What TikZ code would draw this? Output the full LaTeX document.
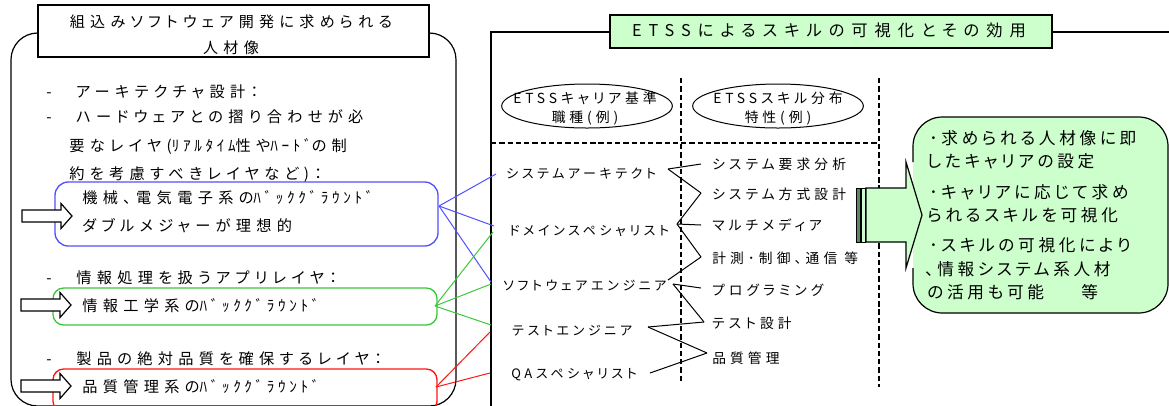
\documentclass[tikz,border=0pt]{standalone}
\usepackage{fontspec}
\newfontfamily\jp[RawFeature=+palt]{Noto Sans CJK JP}
\usetikzlibrary{shapes.geometric}
\definecolor{lgreen}{RGB}{204,255,204}
\definecolor{bline}{RGB}{80,80,255}
\definecolor{gline}{RGB}{60,200,60}
\definecolor{rline}{RGB}{255,20,20}
\definecolor{dgreen}{RGB}{100,130,100}
\newcommand\hwk[1]{{\addfontfeature{LetterSpace=24}#1}}
\newcommand\blkarrow[3]{% x0, x1, y
  \filldraw[fill=white,line width=0.9pt] (#1,#3-6) -- (#2-11,#3-6) -- (#2-11,#3-12.5) -- (#2,#3) -- (#2-11,#3+12.5) -- (#2-11,#3+6) -- (#1,#3+6) -- cycle;}
\begin{document}
\begin{tikzpicture}[x=0.75pt,y=-0.75pt,
  base/.style={inner sep=0pt, text height=0.88em, text depth=0.12em},
  ltxt/.style={base, anchor=west, font=\jp\fontsize{11.4}{13}\selectfont\addfontfeature{LetterSpace=35}},
  ttl/.style={base, font=\jp\fontsize{11.3}{13}\selectfont\addfontfeature{LetterSpace=35}},
  rttl/.style={base, font=\jp\fontsize{12.2}{14}\selectfont\addfontfeature{LetterSpace=43}},
  etxt/.style={base, font=\jp\fontsize{10.4}{12}\selectfont\addfontfeature{LetterSpace=28}},
  role/.style={base, anchor=west, font=\jp\fontsize{9.75}{11}\selectfont\addfontfeature{LetterSpace=28}},
  skill/.style={base, anchor=west, font=\jp\fontsize{10.3}{12}\selectfont\addfontfeature{LetterSpace=30}},
  ctxt/.style={base, anchor=west, font=\jp\fontsize{12.5}{14}\selectfont\addfontfeature{LetterSpace=22}},
  bl/.style={bline, line width=0.75pt},
  gl/.style={gline, line width=0.75pt},
  rl/.style={rline, line width=0.75pt},
  kl/.style={black, line width=0.75pt},
  dsh/.style={line width=1pt, dash pattern=on 4pt off 2.2pt}
]
\useasboundingbox (0,0) rectangle (1169,405);
\clip (0,0) rectangle (1169,405);
% ---------- left panel ----------
\draw[line width=0.9pt, rounded corners=20] (11,33) rectangle (456,406);
\filldraw[fill=white, line width=0.9pt] (38,5) rectangle (429,57);
\node[ttl] (t1) at (231,22) {組込みソフトウェア開発に求められる};
\node[ttl] (t2) at (231,48) {人材像};

\node[ltxt] (d1) at (46,92) {-};
\node[ltxt] (a1) at (76,92) {アーキテクチャ設計：};
\node[ltxt] (d2) at (46,117) {-};
\node[ltxt] (a2) at (76,117) {ハードウェアとの摺り合わせが必};
\node[ltxt] (a3) at (69,146) {要なレイヤ(\hwk{ﾘｱﾙﾀｲﾑ}性や\hwk{ﾊｰﾄﾞ}の制};
\node[ltxt] (a4) at (69,174) {約を考慮すべきレイヤなど)：};

\draw[bline, line width=1pt, rounded corners=10] (55,182) rectangle (438,246);
\node[ltxt] (b1) at (82,198) {機械、電気電子系の\hwk{ﾊﾞｯｸｸﾞﾗｳﾝﾄﾞ}};
\node[ltxt] (b2) at (82,226) {ダブルメジャーが理想的};
\blkarrow{22}{72}{216}

\node[ltxt] (d3) at (46,278) {-};
\node[ltxt] (a5) at (76,278) {情報処理を扱うアプリレイヤ：};
\draw[gline, line width=1pt, rounded corners=8] (53,288) rectangle (437,325);
\node[ltxt] (g1) at (82,306) {情報工学系の\hwk{ﾊﾞｯｸｸﾞﾗｳﾝﾄﾞ}};
\blkarrow{21}{71}{305}

\node[ltxt] (d4) at (46,359) {-};
\node[ltxt] (a6) at (76,359) {製品の絶対品質を確保するレイヤ：};
\draw[rline, line width=1pt, rounded corners=8] (53,369) rectangle (437,412);
\node[ltxt] (r1) at (82,387) {品質管理系の\hwk{ﾊﾞｯｸｸﾞﾗｳﾝﾄﾞ}};
\blkarrow{21}{71}{386}

% ---------- right panel frame ----------
\draw[line width=0.9pt] (610,32) -- (491,32) -- (491,410);
\draw[line width=0.9pt] (1052,32) -- (1169,32);
\filldraw[fill=lgreen, line width=0.9pt] (610,15) rectangle (1052,48);
\node[rttl] (rt) at (829,31) {ETSSによるスキルの可視化とその効用};

\draw[dsh] (681,78) -- (681,382);
\draw[dsh] (879,78) -- (879,387);
\draw[dsh] (491,143) -- (879,143);

\node[draw, ellipse, line width=0.75pt, minimum width=128pt, minimum height=33pt] (e1) at (587,106) {};
\node[etxt] at (585,98) {ETSSキャリア基準};
\node[etxt] at (585,117) {職種(例)};
\node[draw, ellipse, line width=0.75pt, minimum width=128pt, minimum height=33pt] (e2) at (778,106) {};
\node[etxt] at (778,98) {ETSSスキル分布};
\node[etxt] at (778,117) {特性(例)};

% roles
\node[role] (sa) at (506,173) {システムアーキテクト};
\node[role] (ds) at (509,230) {ドメインスペシャリスト};
\node[role] (se) at (503,285) {ソフトウェアエンジニア};
\node[role] (te) at (512,330) {テストエンジニア};
\node[role] (qa) at (511,373) {QAスペシャリスト};
% skills
\node[skill] (k1) at (712,164) {システム要求分析};
\node[skill] (k2) at (712,194) {システム方式設計};
\node[skill] (k3) at (712,225) {マルチメディア};
\node[skill] (k4) at (712,258) {計測･制御、通信 等};
\node[skill] (k5) at (712,290) {プログラミング};
\node[skill] (k6) at (712,323) {テスト設計};
\node[skill] (k7) at (712,358) {品質管理};

% connector end points
\coordinate (saR) at (668,169);
\coordinate (dsR) at (677,224);
\coordinate (seR1) at (668,280);
\coordinate (seR2) at (673,284);
\coordinate (teR) at (648,327);
\coordinate (qaR) at (650,373);
\coordinate (k1L) at (701,164);
\coordinate (k2L) at (701,193);
\coordinate (k3L) at (701,225);
\coordinate (k4L) at (701,257);
\coordinate (k5L) at (701,288);
\coordinate (k6L) at (704,322);
\coordinate (k7L) at (707,353);

\draw[kl] (saR) -- (k1L);
\draw[kl] (saR) -- (k2L);
\draw[kl] (dsR) -- (k2L);
\draw[kl] (dsR) -- (k3L);
\draw[kl] (dsR) -- (k4L);
\draw[kl] (seR1) -- (k4L);
\draw[kl] (seR2) -- (k5L);
\draw[kl] (seR2) -- (k6L);
\draw[kl] (teR) -- (k6L);
\draw[kl] (teR) -- (k7L);
\draw[kl] (qaR) -- (k7L);

% colored connectors
\coordinate (bS) at (439,206);
\coordinate (gS) at (435,306);
\coordinate (rS) at (436,387);
\coordinate (saL) at (496,174);
\coordinate (dsLb) at (494,226);
\coordinate (dsLg) at (493,232);
\coordinate (seLb) at (491,282);
\coordinate (seLg) at (491,284);
\coordinate (teLg) at (491,325);
\coordinate (teLr) at (490,332);
\coordinate (qaL) at (490,373);
\draw[bl] (bS) -- (saL);
\draw[bl] (bS) -- (dsLb);
\draw[bl] (bS) -- (seLb);
\draw[gl] (gS) -- (dsLg);
\draw[gl] (gS) -- (seLg);
\draw[gl] (gS) -- (teLg);
\draw[rl] (rS) -- (teLr);
\draw[rl] (rS) -- (qaL);

% ---------- callout ----------
\fill[lgreen, rounded corners=22] (913,117) rectangle (1168,313);
\draw[line width=0.9pt, rounded corners=22] (913,162) -- (913,117) -- (1168,117) -- (1168,313) -- (913,313) -- (913,268);
\filldraw[fill=lgreen, line width=0.9pt] (866,188) -- (906,188) -- (906,162) -- (922,215) -- (906,268) -- (906,242) -- (866,242) -- cycle;
\filldraw[fill=dgreen, line width=0.6pt] (856,188) rectangle (860,242);
\filldraw[fill=lgreen, line width=0.6pt] (861,188) rectangle (865,242);
\node[ctxt] (c1) at (929,139) {･求められる人材像に即};
\node[ctxt] (c2) at (927,162) {したキャリアの設定};
\node[ctxt] (c3) at (929,193) {･キャリアに応じて求め};
\node[ctxt] (c4) at (927,216) {られるスキルを可視化};
\node[ctxt] (c5) at (929,246) {･スキルの可視化により};
\node[ctxt] (c6) at (925,270) {、情報システム系人材};
\node[ctxt] (c7) at (927,293) {の活用も可能\hspace{28pt}等};
\end{tikzpicture}
\end{document}
